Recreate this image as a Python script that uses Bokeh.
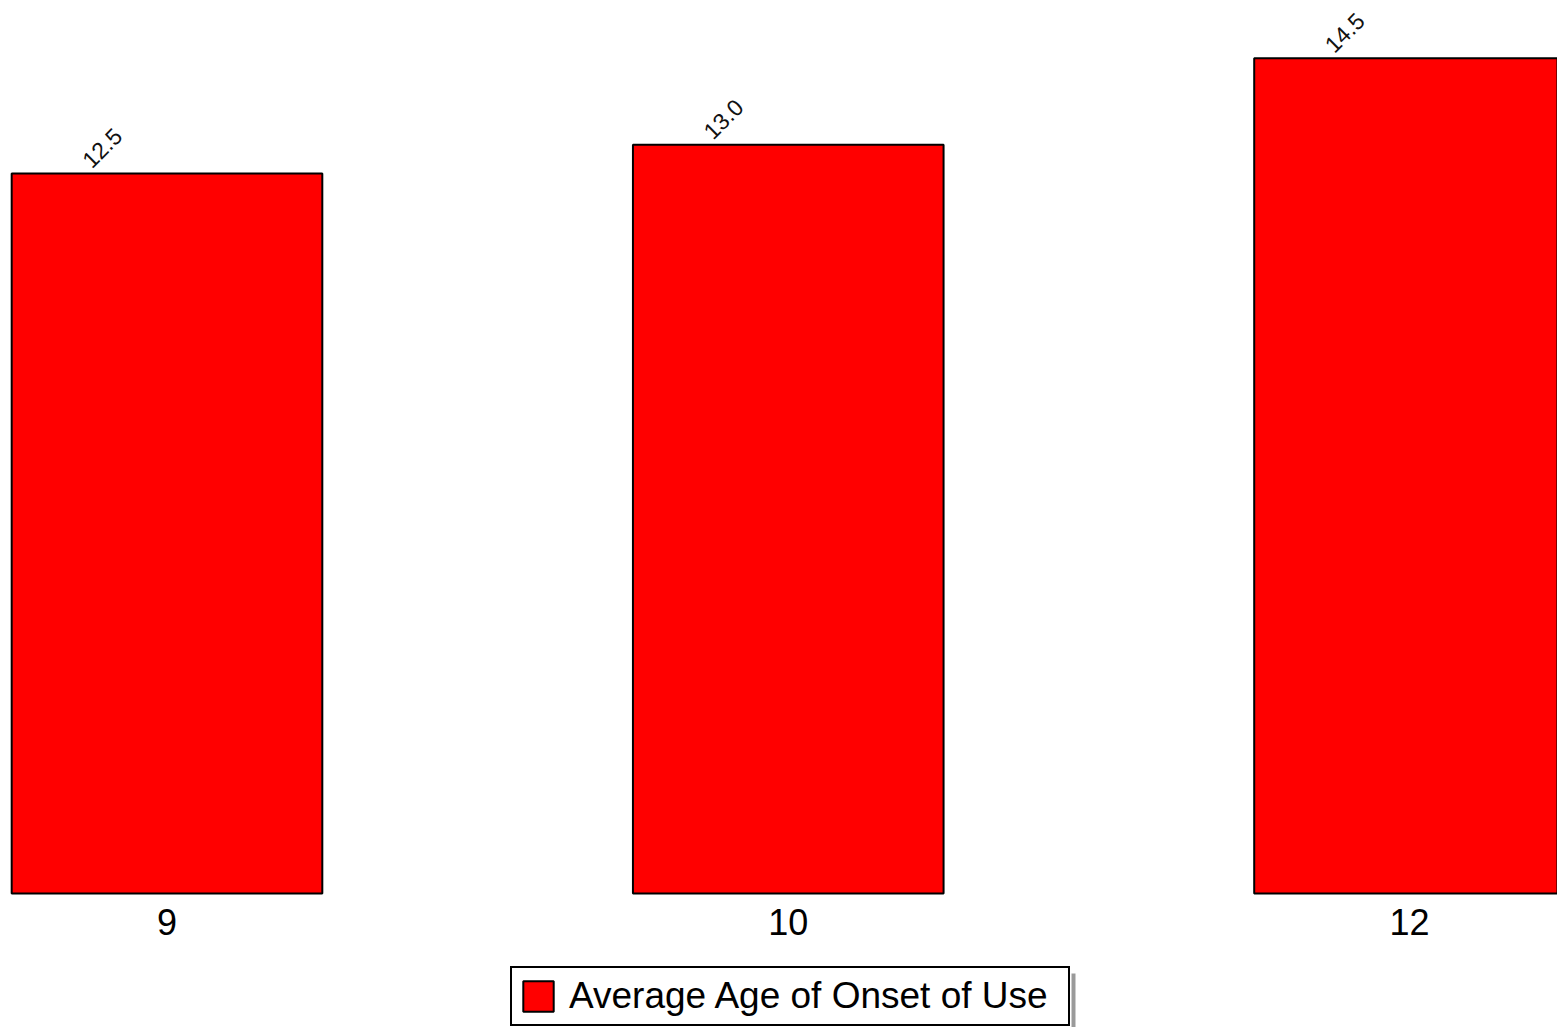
from bokeh.plotting import figure
from bokeh.models import ColumnDataSource, Range1d, Legend, LegendItem, BoxAnnotation
from bokeh.core.properties import value
from bokeh.embed import file_html
from bokeh.resources import INLINE
import math

categories = ["9", "10", "12"]
values = [12.5, 13.0, 14.5]
series_name = "Average Age of Onset of Use"

xs = list(range(len(categories)))
labels = [f"{v:.1f}" for v in values]
src = ColumnDataSource(dict(x=xs, top=values, label=labels, cat=categories,
                            base=[0] * len(xs)))

FONT = value("Liberation Sans")

p = figure(width=1557, height=1027, output_backend="svg", toolbar_location=None,
           x_range=Range1d(-0.268, 2.2382), y_range=Range1d(-2.326, 15.503),
           x_axis_location=None, y_axis_location=None,
           min_border=0, min_border_left=0, min_border_right=0,
           min_border_top=0, min_border_bottom=0,
           outline_line_color=None)
p.xgrid.visible = False
p.ygrid.visible = False

bars = p.vbar(x="x", top="top", bottom=0, width=0.5, source=src,
              fill_color="#ff0000", line_color="black", line_width=2)

# value labels, rotated
p.text(x="x", y="top", text="label", source=src, angle=math.pi / 4,
       x_offset=-81, y_offset=-10, text_align="left", text_baseline="alphabetic",
       text_font=FONT, text_font_size="23px", text_color="#111111")

# category labels under the bars
p.text(x="x", y="base", text="cat", source=src, x_offset=0, y_offset=28,
       text_align="center", text_baseline="alphabetic",
       text_font=FONT, text_font_size="36px", text_color="black")

# legend drop shadow (right strip)
shadow = BoxAnnotation(left=1071, right=1075, top=973, bottom=1027,
                       left_units="canvas", right_units="canvas",
                       top_units="canvas", bottom_units="canvas",
                       fill_color="#9a9a9a", fill_alpha=1.0, line_color=None)
p.add_layout(shadow)

legend = Legend(items=[LegendItem(label=series_name, renderers=[bars])],
                location=(510, 1), orientation="horizontal",
                label_text_font="Liberation Sans", label_text_font_size="37px",
                label_text_color="black",
                glyph_width=38, glyph_height=38, label_standoff=12,
                label_width=492, padding=7, margin=0, spacing=0,
                border_line_color="black", border_line_width=2,
                border_line_alpha=1.0,
                background_fill_color="white", background_fill_alpha=1.0)
p.add_layout(legend)

open("out.html", "w").write(file_html(p, INLINE))
